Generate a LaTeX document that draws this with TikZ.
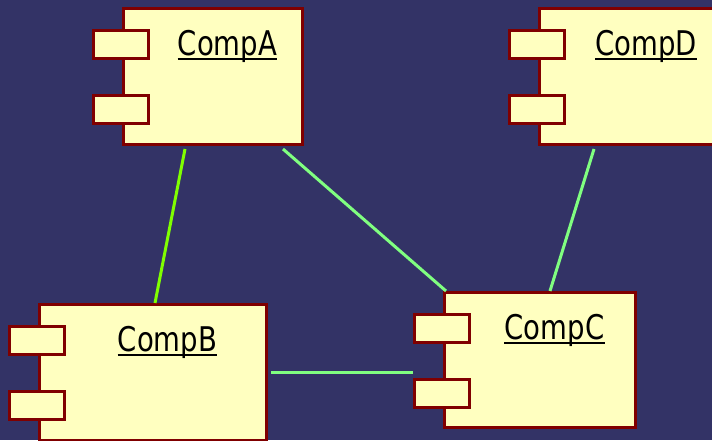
\documentclass[tikz,border=0pt]{standalone}
\usepackage{fontspec}
\setmainfont{DejaVu Sans}[FakeStretch=0.81]
\usetikzlibrary{calc}
\definecolor{bgcol}{HTML}{333366}
\definecolor{compfill}{HTML}{FFFFC0}
\definecolor{bordercol}{HTML}{800000}
\definecolor{limecol}{HTML}{80FF00}
\definecolor{mintcol}{HTML}{80FF80}
\tikzset{
  compbox/.style={draw=bordercol, line width=3pt, fill=compfill, inner sep=0pt, anchor=north west},
  portbox/.style={draw=bordercol, line width=3pt, fill=compfill, inner sep=0pt, anchor=north west,
    minimum width=55pt, minimum height=28pt},
  complabel/.style={anchor=base, inner sep=0pt, font=\fontsize{34}{40}\selectfont, text=black},
  underl/.style={line width=1.6pt, black},
  conn/.style={line width=3pt, mintcol},
  connlime/.style={line width=3pt, limecol}
}
% #1 name, #2 x, #3 y (outer top-left), #4 w, #5 h (outer), #6 label
\newcommand\umlcomp[6]{%
  \node[compbox, minimum width=#4pt-3pt, minimum height=#5pt-3pt] (#1) at (#2,#3) {};
  \node[portbox] (#1p1) at (#2-30,#3+22) {};
  \node[portbox] (#1p2) at (#2-30,#3+87) {};
  \node[complabel] (#1l) at (#2+29+#4/2-29/2, #3+48) {#6};
  \draw[underl] ([yshift=-4pt]#1l.base west) -- ([yshift=-4pt]#1l.base east);
}
\begin{document}
\begin{tikzpicture}[x=1pt,y=-1pt]
\fill[bgcol] (0,0) rectangle (712,440);
\useasboundingbox (0,0) rectangle (712,440);
\umlcomp{A}{122}{7}{182}{139}{CompA}
\umlcomp{D}{538}{7}{187}{139}{CompD}
\umlcomp{B}{38}{303}{230}{139}{CompB}
\umlcomp{C}{443}{291}{194}{138}{CompC}
\draw[connlime] ([shift={(63,3)}]A.south west) -- ([shift={(117,0)}]B.north west);
\draw[conn] ([shift={(161,3)}]A.south west) -- ([shift={(3,0)}]C.north west);
\draw[conn] ([shift={(56,3)}]D.south west) -- ([shift={(107,0)}]C.north west);
\coordinate (bcs) at ([shift={(3,69)}]B.north east);
\draw[conn] (bcs) -- (bcs -| Cp2.west);
\end{tikzpicture}
\end{document}
